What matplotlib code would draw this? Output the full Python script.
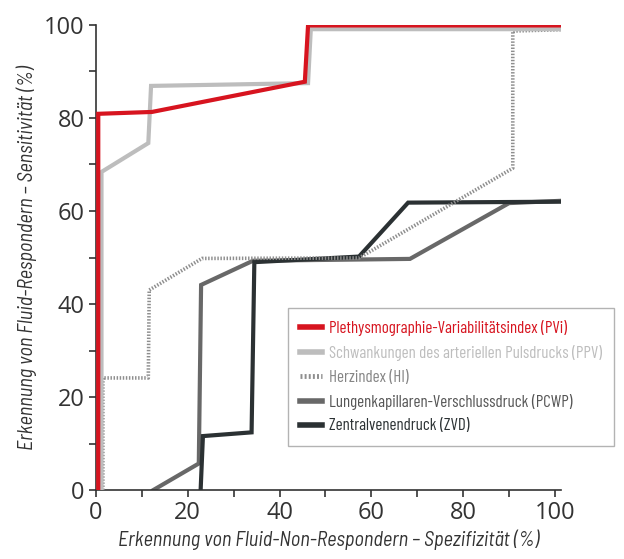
import matplotlib
matplotlib.use("Agg")
import matplotlib.pyplot as plt
from matplotlib.lines import Line2D
from matplotlib import font_manager

# ROC curves (x = specificity %, y = sensitivity %)
pvi_x = [0.5, 0.5, 12.2, 45.5, 46.2, 101.5]
pvi_y = [0.0, 80.9, 81.3, 87.8, 99.9, 99.9]

ppv_x = [1.2, 1.2, 11.4, 12.0, 46.2, 46.8, 101.5]
ppv_y = [0.0, 68.4, 74.6, 86.9, 87.5, 99.1, 99.1]

hi_x = [1.5, 1.5, 11.4, 11.6, 23.1, 57.3, 90.8, 90.8, 101.5]
hi_y = [0.0, 24.1, 24.1, 43.0, 49.8, 49.9, 69.2, 98.7, 99.0]

pcwp_x = [12.5, 22.4, 22.9, 34.2, 68.4, 90.0, 101.5]
pcwp_y = [0.0, 5.7, 44.1, 49.3, 49.7, 61.7, 62.2]

zvd_x = [22.8, 23.3, 33.9, 34.5, 57.3, 68.0, 101.5]
zvd_y = [0.0, 11.6, 12.4, 49.0, 50.2, 61.8, 62.0]

labels = [
    "Plethysmographie-Variabilitätsindex (PVi)",
    "Schwankungen des arteriellen Pulsdrucks (PPV)",
    "Herzindex (HI)",
    "Lungenkapillaren-Verschlussdruck (PCWP)",
    "Zentralvenendruck (ZVD)",
]
colors = ["#d7141f", "#bdbdbd", "#8e8e8e", "#686868", "#2b3133"]
text_colors = ["#d7141f", "#bdbdbd", "#858585", "#555555", "#2b3133"]

tick_font = ["Open Sans", "DejaVu Sans"]
narrow = ["Barlow Condensed", "DejaVu Sans"]
semi = ["Barlow Semi Condensed", "DejaVu Sans"]
axis_color = "#333333"
dots = (0, (0.4, 0.45))

fig = plt.figure(figsize=(6.24, 5.59), dpi=100)
ax = fig.add_axes([0.1538, 0.1234, 0.7452, 0.8319])

ax.plot(pcwp_x, pcwp_y, color=colors[3], lw=3.0, zorder=2, solid_joinstyle="miter")
ax.plot(zvd_x, zvd_y, color=colors[4], lw=3.0, zorder=3, solid_joinstyle="miter")
ax.plot(hi_x, hi_y, color=colors[2], lw=2.6, ls=dots, zorder=4)
ax.plot(ppv_x, ppv_y, color=colors[1], lw=3.0, zorder=5, solid_joinstyle="miter")
ax.plot(pvi_x, pvi_y, color=colors[0], lw=3.0, zorder=6, solid_joinstyle="miter")

ax.set_xlim(0, 101.3)
ax.set_ylim(0, 100)

for s in ["top", "right"]:
    ax.spines[s].set_visible(False)
for s in ["left", "bottom"]:
    ax.spines[s].set_color(axis_color)
    ax.spines[s].set_linewidth(1.2)

ax.set_xticks([0, 20, 40, 60, 80, 100])
ax.set_yticks([0, 20, 40, 60, 80, 100])
ax.set_xticks(range(0, 101, 10), minor=True)
ax.set_yticks(range(0, 101, 10), minor=True)
ax.tick_params(which="both", direction="out", length=5, width=1.2, color=axis_color)
ax.tick_params(which="major", labelsize=17, labelcolor=axis_color, pad=3)
for lab in ax.get_xticklabels() + ax.get_yticklabels():
    lab.set_family(tick_font)

ax.set_xlabel("Erkennung von Fluid-Non-Respondern – Spezifizität (%)",
              family=semi, style="italic", fontsize=14.6, color=axis_color, labelpad=3)
ax.set_ylabel("Erkennung von Fluid-Respondern – Sensitivität (%)",
              family=semi, style="italic", fontsize=14.6, color=axis_color, labelpad=5)

handles = [
    Line2D([], [], color=colors[0], lw=4),
    Line2D([], [], color=colors[1], lw=4),
    Line2D([], [], color=colors[2], lw=3.5, ls=dots),
    Line2D([], [], color=colors[3], lw=4),
    Line2D([], [], color=colors[4], lw=4),
]
leg = fig.legend(handles, labels, loc="upper left",
                 bbox_to_anchor=(288 / 624, 1 - 308 / 559),
                 prop=font_manager.FontProperties(family=narrow, size=12.2),
                 frameon=True, fancybox=False, edgecolor="#a0a0a0",
                 handlelength=1.3, handletextpad=0.4, labelspacing=0.52,
                 borderpad=0.72, borderaxespad=0)
leg.get_frame().set_linewidth(1.0)
for txt, c in zip(leg.get_texts(), text_colors):
    txt.set_color(c)

fig.savefig("out.png", dpi=100)
